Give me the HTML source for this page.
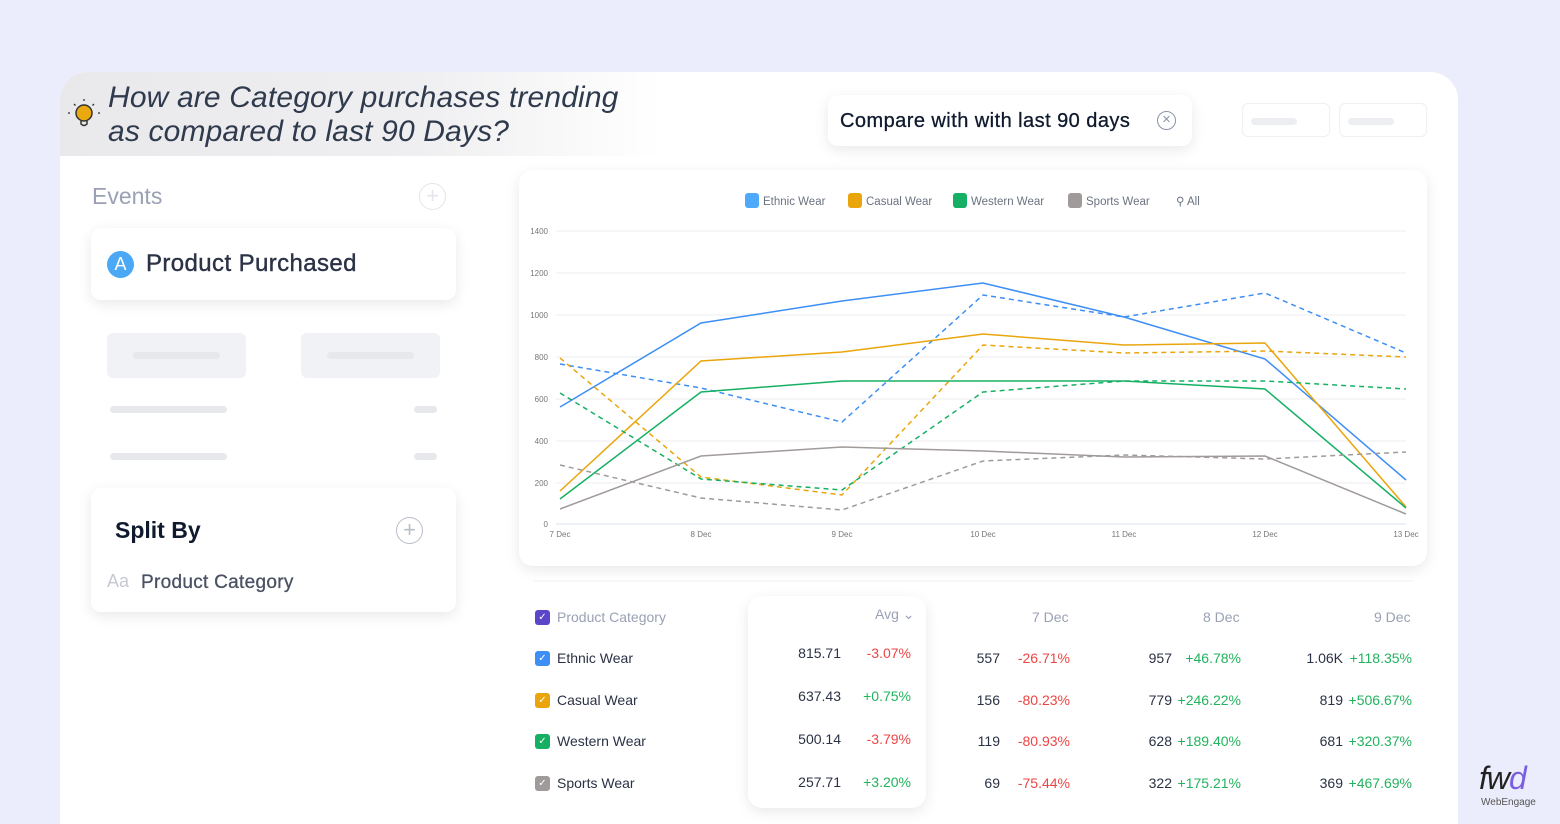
<!DOCTYPE html>
<html><head><meta charset="utf-8"><style>
*{margin:0;padding:0;box-sizing:border-box}
html{width:1560px;height:824px;overflow:hidden}
body{width:1560px;height:824px;background:#ECEDFC;font-family:"Liberation Sans",sans-serif;position:relative;overflow:hidden;color:#1f2937}
.a{position:absolute}
.card{background:#fff;border-radius:10px;box-shadow:0 4px 14px rgba(0,0,0,.09)}
.sk{background:#f1f2f5;border-radius:6px}
.bar{background:#e7e8ec;border-radius:4px;height:7px}
.cb{width:15px;height:15px;border-radius:3px;color:#fff;font-size:10px;text-align:center;line-height:15px}
.t{font-size:14px;color:#2b3245}
.r{color:#ef4444}.g{color:#22b35e}
</style></head><body>
<div class="a" style="left:60px;top:72px;width:1398px;height:780px;background:#fff;border-radius:28px 28px 0 0"></div>
<div class="a" style="left:60px;top:72px;width:600px;height:84px;border-radius:28px 0 0 0;background:linear-gradient(90deg,#e9e9ec 0%,#efeff1 60%,#fff 100%)"></div>
<svg class="a" style="left:66px;top:96px" width="36" height="36" viewBox="0 0 36 36"><circle cx="18" cy="17" r="8" fill="#EAA90E" stroke="#333" stroke-width="1.5"/><path d="M15 25 v3 q3 3 6 0 v-3" fill="none" stroke="#333" stroke-width="1.5"/><g stroke="#333" stroke-width="1.3"><line x1="18" y1="3" x2="18" y2="5"/><line x1="8" y1="8" x2="9.5" y2="9.5"/><line x1="28" y1="8" x2="26.5" y2="9.5"/><line x1="2" y1="17" x2="4" y2="17"/><line x1="32" y1="17" x2="34" y2="17"/></g></svg>
<div class="a" style="left:108px;top:81px;font-size:30px;font-style:italic;color:#2f3a4d;line-height:34px;letter-spacing:0.15px">How are Category purchases trending<br>as compared to last 90 Days?</div>

<div class="a card" style="left:828px;top:95px;width:364px;height:51px;border-radius:10px"></div>
<div class="a" style="left:840px;top:110px;font-size:20px;color:#0f1a2e;letter-spacing:0.45px;-webkit-text-stroke:0.3px #0f1a2e">Compare with with last 90 days</div>
<div class="a" style="left:1157px;top:111px;width:19px;height:19px;border:1.5px solid #8b93a7;border-radius:50%;font-size:11px;color:#8b93a7;text-align:center;line-height:16px">✕</div>
<div class="a" style="left:1242px;top:103px;width:88px;height:34px;border:1px solid #eef0f3;border-radius:6px"><div class="bar" style="position:absolute;left:8px;top:14px;width:46px;background:#eceef1"></div></div>
<div class="a" style="left:1339px;top:103px;width:88px;height:34px;border:1px solid #eef0f3;border-radius:6px"><div class="bar" style="position:absolute;left:8px;top:14px;width:46px;background:#eceef1"></div></div>

<div class="a" style="left:92px;top:183px;font-size:23px;color:#9aa1b4">Events</div>
<div class="a" style="left:419px;top:183px;width:27px;height:27px;border:1.5px solid #e3e5ea;border-radius:50%;color:#e3e5ea;font-size:22px;text-align:center;line-height:23px">+</div>
<div class="a card" style="left:91px;top:228px;width:365px;height:72px"></div>
<div class="a" style="left:107px;top:251px;width:27px;height:27px;border-radius:50%;background:#4aa8f5;color:#fff;font-size:18px;text-align:center;line-height:27px">A</div>
<div class="a" style="left:146px;top:250px;font-size:24px;color:#2b3245;letter-spacing:0.4px;-webkit-text-stroke:0.4px #2b3245">Product Purchased</div>
<div class="a sk" style="left:107px;top:333px;width:139px;height:45px"><div class="bar" style="position:absolute;left:26px;top:19px;width:87px"></div></div>
<div class="a sk" style="left:301px;top:333px;width:139px;height:45px"><div class="bar" style="position:absolute;left:26px;top:19px;width:87px"></div></div>
<div class="a bar" style="left:110px;top:406px;width:117px"></div>
<div class="a bar" style="left:414px;top:406px;width:23px"></div>
<div class="a bar" style="left:110px;top:453px;width:117px"></div>
<div class="a bar" style="left:414px;top:453px;width:23px"></div>

<div class="a card" style="left:91px;top:488px;width:365px;height:124px"></div>
<div class="a" style="left:115px;top:517px;font-size:23px;font-weight:bold;color:#0f1a2e">Split By</div>
<div class="a" style="left:396px;top:517px;width:27px;height:27px;border:1.5px solid #b8bdc8;border-radius:50%;color:#b8bdc8;font-size:22px;text-align:center;line-height:23px">+</div>
<div class="a" style="left:107px;top:571px;font-size:18px;color:#c5c9d2">Aa</div>
<div class="a" style="left:141px;top:572px;font-size:19px;color:#4a5163;letter-spacing:0.3px;-webkit-text-stroke:0.3px #4a5163">Product Category</div>

<div class="a card" style="left:519px;top:170px;width:908px;height:396px;border-radius:14px"></div>
<svg class="a" style="left:0;top:0" width="1560" height="824">
<g font-family="Liberation Sans" font-size="8" fill="#777" text-anchor="end">
<g stroke="#eceef1" stroke-width="1">
<line x1="556" y1="231" x2="1406" y2="231"/><line x1="556" y1="273" x2="1406" y2="273"/><line x1="556" y1="315" x2="1406" y2="315"/><line x1="556" y1="357" x2="1406" y2="357"/><line x1="556" y1="399" x2="1406" y2="399"/><line x1="556" y1="441" x2="1406" y2="441"/><line x1="556" y1="483" x2="1406" y2="483"/></g>
<line x1="556" y1="524" x2="1406" y2="524" stroke="#dfe3f3"/>
<text x="548" y="234">1400</text><text x="548" y="276">1200</text><text x="548" y="318">1000</text><text x="548" y="360">800</text><text x="548" y="402">600</text><text x="548" y="444">400</text><text x="548" y="486">200</text><text x="548" y="527">0</text>
<g text-anchor="middle"><text x="560" y="537">7 Dec</text><text x="701" y="537">8 Dec</text><text x="842" y="537">9 Dec</text><text x="983" y="537">10 Dec</text><text x="1124" y="537">11 Dec</text><text x="1265" y="537">12 Dec</text><text x="1406" y="537">13 Dec</text></g>
</g>
<g fill="none" stroke-width="1.5">
<polyline stroke="#3d8ef5" points="560,407 701,323 842,301 983,283 1124,317 1265,359 1406,480"/>
<polyline stroke="#3d8ef5" stroke-dasharray="5,4" points="560,364 701,388 842,422 983,295 1124,317 1265,293 1406,353"/>
<polyline stroke="#eaa50c" points="560,491 701,361 842,352 983,334 1124,345 1265,343 1406,507"/>
<polyline stroke="#eaa50c" stroke-dasharray="5,4" points="560,358 701,477 842,495 983,345 1124,353 1265,351 1406,357"/>
<polyline stroke="#16b064" points="560,499 701,392 842,381 983,381 1124,381 1265,389 1406,508"/>
<polyline stroke="#16b064" stroke-dasharray="5,4" points="560,393 701,479 842,490 983,392 1124,381 1265,381 1406,389"/>
<polyline stroke="#a09b9a" points="560,509 701,456 842,447 983,451 1124,457 1265,456 1406,514"/>
<polyline stroke="#a09b9a" stroke-dasharray="5,4" points="560,465 701,498 842,510 983,461 1124,455 1265,459 1406,452"/>
</g>
<g font-family="Liberation Sans" font-size="11.5" fill="#6b7280">
<rect x="745" y="193" width="14" height="15" rx="3" fill="#4fa9fb"/><text x="763" y="205">Ethnic Wear</text>
<rect x="848" y="193" width="14" height="15" rx="3" fill="#eaa50c"/><text x="866" y="205">Casual Wear</text>
<rect x="953" y="193" width="14" height="15" rx="3" fill="#16b064"/><text x="971" y="205">Western Wear</text>
<rect x="1068" y="193" width="14" height="15" rx="3" fill="#a09b9a"/><text x="1086" y="205">Sports Wear</text>
<text x="1176" y="205">⚲ All</text>
</g>
<line x1="533" y1="581" x2="1413" y2="581" stroke="#eef0f4"/>
</svg>

<div class="a card" style="left:748px;top:596px;width:178px;height:212px;border-radius:14px"></div>
<div class="a cb" style="left:535px;top:610px;background:#5b45c9">✓</div>
<div class="a" style="left:557px;top:609px;font-size:14px;color:#9aa1b4">Product Category</div>
<div class="a" style="left:875px;top:606px;font-size:14px;color:#9aa1b4">Avg ⌄</div>
<div class="a" style="left:1032px;top:609px;font-size:14px;color:#9aa1b4">7 Dec</div>
<div class="a" style="left:1203px;top:609px;font-size:14px;color:#9aa1b4">8 Dec</div>
<div class="a" style="left:1374px;top:609px;font-size:14px;color:#9aa1b4">9 Dec</div>

<div class="a cb" style="left:535px;top:651px;background:#3d8ef5">✓</div><div class="a t" style="left:557px;top:650px">Ethnic Wear</div>
<div class="a cb" style="left:535px;top:693px;background:#eaa50c">✓</div><div class="a t" style="left:557px;top:692px">Casual Wear</div>
<div class="a cb" style="left:535px;top:734px;background:#16b064">✓</div><div class="a t" style="left:557px;top:733px">Western Wear</div>
<div class="a cb" style="left:535px;top:776px;background:#a09b9a">✓</div><div class="a t" style="left:557px;top:775px">Sports Wear</div>

<div class="a t" style="left:760px;top:645px;width:81px;text-align:right">815.71</div><div class="a t r" style="left:845px;top:645px;width:66px;text-align:right">-3.07%</div>
<div class="a t" style="left:760px;top:688px;width:81px;text-align:right">637.43</div><div class="a t g" style="left:845px;top:688px;width:66px;text-align:right">+0.75%</div>
<div class="a t" style="left:760px;top:731px;width:81px;text-align:right">500.14</div><div class="a t r" style="left:845px;top:731px;width:66px;text-align:right">-3.79%</div>
<div class="a t" style="left:760px;top:774px;width:81px;text-align:right">257.71</div><div class="a t g" style="left:845px;top:774px;width:66px;text-align:right">+3.20%</div>

<div class="a t" style="left:940px;top:650px;width:60px;text-align:right">557</div><div class="a t r" style="left:1000px;top:650px;width:70px;text-align:right">-26.71%</div>
<div class="a t" style="left:940px;top:692px;width:60px;text-align:right">156</div><div class="a t r" style="left:1000px;top:692px;width:70px;text-align:right">-80.23%</div>
<div class="a t" style="left:940px;top:733px;width:60px;text-align:right">119</div><div class="a t r" style="left:1000px;top:733px;width:70px;text-align:right">-80.93%</div>
<div class="a t" style="left:940px;top:775px;width:60px;text-align:right">69</div><div class="a t r" style="left:1000px;top:775px;width:70px;text-align:right">-75.44%</div>

<div class="a t" style="left:1110px;top:650px;width:62px;text-align:right">957</div><div class="a t g" style="left:1171px;top:650px;width:70px;text-align:right">+46.78%</div>
<div class="a t" style="left:1110px;top:692px;width:62px;text-align:right">779</div><div class="a t g" style="left:1171px;top:692px;width:70px;text-align:right">+246.22%</div>
<div class="a t" style="left:1110px;top:733px;width:62px;text-align:right">628</div><div class="a t g" style="left:1171px;top:733px;width:70px;text-align:right">+189.40%</div>
<div class="a t" style="left:1110px;top:775px;width:62px;text-align:right">322</div><div class="a t g" style="left:1171px;top:775px;width:70px;text-align:right">+175.21%</div>

<div class="a t" style="left:1280px;top:650px;width:63px;text-align:right">1.06K</div><div class="a t g" style="left:1342px;top:650px;width:70px;text-align:right">+118.35%</div>
<div class="a t" style="left:1280px;top:692px;width:63px;text-align:right">819</div><div class="a t g" style="left:1342px;top:692px;width:70px;text-align:right">+506.67%</div>
<div class="a t" style="left:1280px;top:733px;width:63px;text-align:right">681</div><div class="a t g" style="left:1342px;top:733px;width:70px;text-align:right">+320.37%</div>
<div class="a t" style="left:1280px;top:775px;width:63px;text-align:right">369</div><div class="a t g" style="left:1342px;top:775px;width:70px;text-align:right">+467.69%</div>

<div class="a" style="left:1479px;top:760px;font-size:32px;font-style:italic;color:#222;letter-spacing:-1px">fw<span style="color:#7b5fe0">d</span></div>
<div class="a" style="left:1481px;top:797px;font-size:10px;color:#555">WebEngage</div>
</body></html>
